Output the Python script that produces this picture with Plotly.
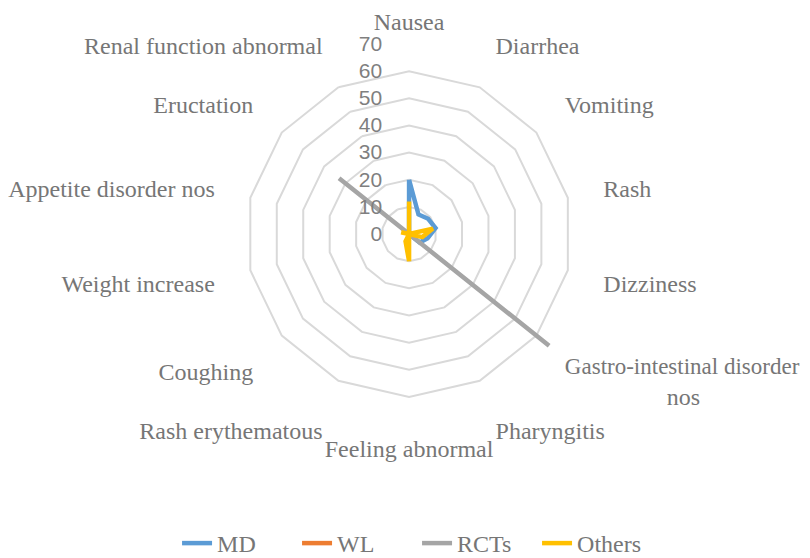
import plotly.graph_objects as go

categories = ["Nausea", "Diarrhea", "Vomiting", "Rash", "Dizziness",
              "Gastro-intestinal disorder nos", "Pharyngitis", "Feeling abnormal",
              "Rash erythematous", "Coughing", "Weight increase",
              "Appetite disorder nos", "Eructation", "Renal function abnormal"]
tick_labels = ["Nausea", "Diarrhea", "Vomiting", "Rash", "Dizziness",
               "<span style='font-size:23px'>Gastro-intestinal disorder</span><br>"
               + "\u00a0" * 17 + "nos",
               "Pharyngitis", "Feeling abnormal",
               "Rash erythematous", "Coughing", "Weight increase",
               "Appetite disorder nos", "Eructation", "Renal function abnormal"]

md = [20, 8, 9, 10, 7, 5, 0, 0, 0, 0, 0, 0, 0, 0]
wl = [0, 0, 0, 0, 0, 0, 0, 0, 0, 0, 0, 0, 0, 0]
rcts = [0, 0, 0, 0, 0, 66, 0, 0, 0, 0, 0, 0, 33, 0]
others = [12, 0, 0, 9, 5, 0, 0, 10, 3, 0, 0, 3, 0, 0]

series = [("MD", md, "#5B9BD5"), ("WL", wl, "#ED7D31"),
          ("RCTs", rcts, "#A5A5A5"), ("Others", others, "#FFC000")]

fig = go.Figure()
for name, vals, color in series:
    fig.add_trace(go.Scatterpolar(
        r=vals + vals[:1], theta=categories + categories[:1], name=name,
        mode="lines", line=dict(color=color, width=4.5)))

serif = "Liberation Serif, Times New Roman, serif"
sans = "Liberation Sans, Arial, sans-serif"
text_color = "#767676"
fig.update_layout(
    width=810, height=558,
    margin=dict(l=0, r=0, t=0, b=0),
    paper_bgcolor="white", plot_bgcolor="white",
    font=dict(family=serif, size=24, color=text_color),
    polar=dict(
        domain=dict(x=[0.2606, 0.7297], y=[0.2544, 0.9354]),
        gridshape="linear",
        bgcolor="white",
        radialaxis=dict(range=[0, 70], dtick=10, angle=90, tickangle=90,
                        side="counterclockwise", showline=False, ticks="",
                        ticksuffix="\u00a0" * 4,
                        gridcolor="#D9D9D9", gridwidth=1.5,
                        tickfont=dict(size=21, color="#7F7F7F", family=sans)),
        angularaxis=dict(direction="clockwise", rotation=90, showgrid=False,
                         showline=False, ticks="outside", ticklen=4,
                         tickcolor="rgba(0,0,0,0)",
                         tickvals=categories, ticktext=tick_labels,
                         tickfont=dict(size=24, color=text_color, family=serif)),
    ),
    legend=dict(orientation="h", x=0.505, xanchor="center", y=0.0, yanchor="bottom",
                font=dict(size=24, color=text_color, family=serif),
                entrywidth=75, entrywidthmode="pixels"),
)

fig.write_html("out.html")
